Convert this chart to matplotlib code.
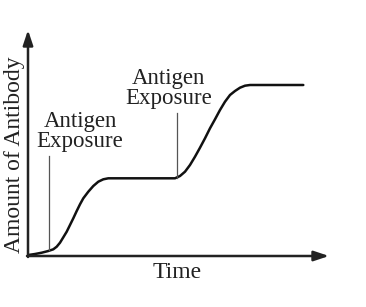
import matplotlib.pyplot as plt

# antibody curve (time, amount)
time = [0.3, 7, 13.7, 20.3, 25.3, 28.7, 32, 35.3, 38.7, 42, 45.3, 48.7, 52, 55.3,
        60.3, 65.3, 70.3, 75.3, 80.3, 97, 137, 147, 152, 157, 162, 167, 172, 177,
        182, 187, 192, 197, 202, 207, 212, 217, 222, 275.3]
amount = [1, 2, 3.3, 5, 6.7, 9.3, 13.3, 18.7, 24.3, 31, 37.7, 45, 51.7, 57.7,
          64.3, 70, 74.3, 76.7, 77.7, 77.7, 77.7, 77.7, 80, 84.3, 91, 99.3, 108.3,
          117.7, 127.7, 136.7, 146, 154.3, 161, 165, 168.3, 170.3, 171, 171]

# exposure markers: x, line top, line bottom
exposure_x = [21.3, 148.7]
exposure_top = [100, 143.3]
exposure_bottom = [6, 77.7]
exposure_label = ["Antigen\nExposure", "Antigen\nExposure"]
label_x = [52, 140.5]
label_y = [124.5, 167.5]

plt.rcParams['font.family'] = ['Liberation Serif', 'DejaVu Serif']

fig = plt.figure(figsize=(3.66, 3.07), dpi=100)
ax = fig.add_axes([28 / 366, 51 / 307, 301 / 366, 226 / 307])
ax.set_xlim(0, 301)
ax.set_ylim(0, 226)
ax.axis('off')

# axes with arrows
ax.annotate('', xy=(301, 0), xytext=(-1, 0),
            arrowprops=dict(arrowstyle='-|>,head_length=0.9,head_width=0.3',
                            color='#222222', lw=1.8, shrinkA=0, shrinkB=0),
            annotation_clip=False)
ax.annotate('', xy=(0, 226), xytext=(0, -1),
            arrowprops=dict(arrowstyle='-|>,head_length=0.9,head_width=0.3',
                            color='#222222', lw=1.8, shrinkA=0, shrinkB=0),
            annotation_clip=False)

ax.plot(time, amount, color='#111111', lw=1.8, solid_capstyle='round', clip_on=False)

for i in range(len(exposure_x)):
    ax.plot([exposure_x[i], exposure_x[i]], [exposure_bottom[i], exposure_top[i]],
            color='#555555', lw=0.9)
    ax.text(label_x[i], label_y[i], exposure_label[i], ha='center', va='center',
            fontsize=16.5, linespacing=0.95, color='#222222')

fig.text(15 / 366, 1 - 155 / 307, "Amount of Antibody", rotation=90,
         ha='center', va='center', fontsize=17, color='#222222')
fig.text(177 / 366, 1 - 272 / 307, "Time", ha='center', va='center',
         fontsize=17, color='#222222')

fig.savefig('out.png', dpi=100)
